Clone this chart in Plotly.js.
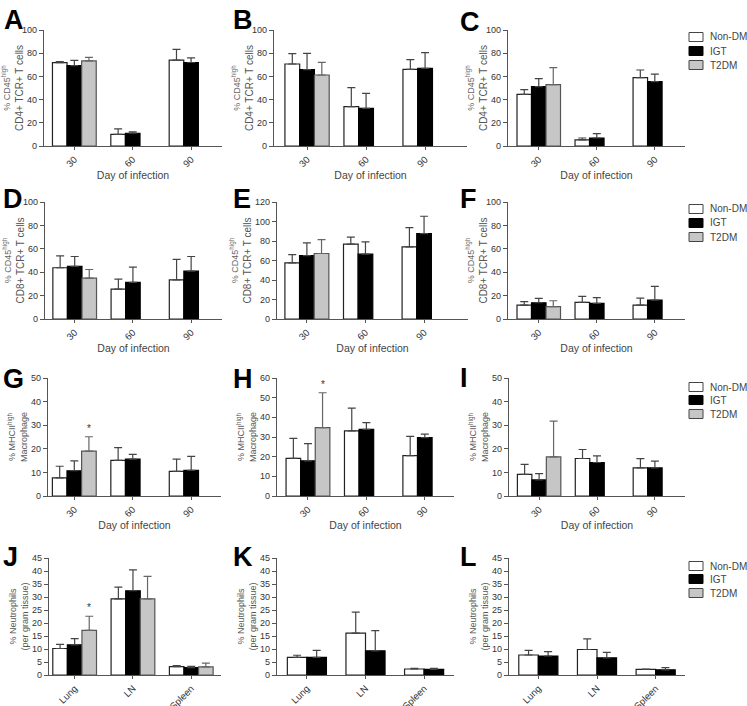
<!DOCTYPE html>
<html><head><meta charset="utf-8">
<script src="https://cdn.plot.ly/plotly-3.0.1.min.js"></script>
<style>html,body{margin:0;padding:0;background:#fff;}#chart{width:747px;height:706px;}</style>
</head><body><div id="chart"></div>
<script>
// ---------------- data ----------------
const seriesNames = ['Non-DM', 'IGT', 'T2DM'];
const days = ['30', '60', '90'];
const tissues = ['Lung', 'LN', 'Spleen'];

// A: CD4+ (row 1, col 1)
const A_nonDM = [71.8, 10.0, 74.0], A_nonDM_sem = [1.0, 4.7, 9.3];
const A_IGT   = [69.3, 11.0, 72.0], A_IGT_sem   = [4.6, 1.2, 4.0];
const A_T2DM  = [73.3, null, null], A_T2DM_sem  = [3.1, 0, 0];
// B
const B_nonDM = [70.7, 33.9, 66.1], B_nonDM_sem = [8.9, 16.4, 8.3];
const B_IGT   = [65.8, 32.5, 67.0], B_IGT_sem   = [14.1, 12.9, 13.5];
const B_T2DM  = [61.2, null, null], B_T2DM_sem  = [10.9, 0, 0];
// C
const C_nonDM = [44.5, 5.2, 58.9], C_nonDM_sem = [4.1, 1.7, 6.6];
const C_IGT   = [51.1, 6.9, 55.5], C_IGT_sem   = [6.9, 3.7, 6.5];
const C_T2DM  = [52.9, null, null], C_T2DM_sem = [14.6, 0, 0];
// D: CD8+
const D_nonDM = [43.8, 25.6, 33.5], D_nonDM_sem = [10.2, 8.5, 17.4];
const D_IGT   = [44.9, 31.3, 40.9], D_IGT_sem   = [8.5, 13.0, 12.5];
const D_T2DM  = [34.9, null, null], D_T2DM_sem  = [7.4, 0, 0];
// E
const E_nonDM = [57.6, 76.7, 74.0], E_nonDM_sem = [8.5, 7.3, 19.8];
const E_IGT   = [65.1, 66.5, 87.6], E_IGT_sem   = [12.9, 12.5, 17.8];
const E_T2DM  = [67.2, null, null], E_T2DM_sem  = [14.3, 0, 0];
// F
const F_nonDM = [11.9, 14.2, 11.9], F_nonDM_sem = [2.9, 5.1, 6.0];
const F_IGT   = [13.9, 13.4, 16.2], F_IGT_sem   = [3.7, 4.8, 11.6];
const F_T2DM  = [10.5, null, null], F_T2DM_sem  = [5.1, 0, 0];
// G: MHCII high macrophage
const G_nonDM = [7.7, 15.1, 10.4], G_nonDM_sem = [4.9, 5.4, 5.2];
const G_IGT   = [10.7, 15.6, 10.9], G_IGT_sem   = [4.2, 2.0, 5.9];
const G_T2DM  = [19.0, null, null], G_T2DM_sem  = [6.1, 0, 0];
// H
const H_nonDM = [19.1, 33.1, 20.5], H_nonDM_sem = [10.2, 11.6, 9.8];
const H_IGT   = [17.9, 33.9, 29.7], H_IGT_sem   = [8.7, 3.4, 1.8];
const H_T2DM  = [34.8, null, null], H_T2DM_sem  = [17.7, 0, 0];
// I
const I_nonDM = [9.2, 15.9, 11.9], I_nonDM_sem = [4.2, 3.8, 3.9];
const I_IGT   = [6.8, 14.2, 11.9], I_IGT_sem   = [2.7, 2.8, 2.9];
const I_T2DM  = [16.6, null, null], I_T2DM_sem = [15.1, 0, 0];
// J: Neutrophils per gram tissue
const J_nonDM = [10.2, 29.3, 3.2], J_nonDM_sem = [1.6, 4.5, 0.4];
const J_IGT   = [11.6, 32.4, 2.8], J_IGT_sem   = [2.4, 8.0, 0.5];
const J_T2DM  = [17.2, 29.3, 3.1], J_T2DM_sem  = [5.4, 8.6, 1.5];
// K
const K_nonDM = [6.8, 16.1, 2.3], K_nonDM_sem = [0.8, 8.1, 0.3];
const K_IGT   = [6.8, 9.3, 2.2],  K_IGT_sem   = [2.7, 7.8, 0.4];
// L
const L_nonDM = [7.7, 9.8, 2.2], L_nonDM_sem = [1.8, 4.1, 0.1];
const L_IGT   = [7.3, 6.6, 2.0], L_IGT_sem   = [1.7, 2.1, 0.8];

// significance marks: [panel letter, series index, category index]
const sigMarks = [['G', 2, 0], ['H', 2, 0], ['J', 2, 0]];

// axis titles
const yTitleRow1 = ['% CD45<sup>high</sup>', 'CD4+ TCR+ T cells'];
const yTitleRow2 = ['% CD45<sup>high</sup>', 'CD8+ TCR+ T cells'];
const yTitleRow3 = ['% MHCII<sup>high</sup>', 'Macrophage'];
const yTitleRow4 = ['% Neutrophils', '(per gram tissue)'];
const xTitle = 'Day of infection';

// ---------------- figure ----------------
const W = 747, H = 706;
const FONT = 'Liberation Sans, Arial, Helvetica, sans-serif';
const fills = ['#ffffff', '#000000', '#c6c6c6'];
const outlines = ['#222222', '#000000', '#555555'];
const errCols = ['#444444', '#444444', '#666666'];

const panels = [
  {id:'A', cats:days, s:[[A_nonDM,A_nonDM_sem],[A_IGT,A_IGT_sem],[A_T2DM,A_T2DM_sem]], ymax:100, dt:20, yt:yTitleRow1, xt:true, px:[44,222,30,146], xr:[-0.52,2.53]},
  {id:'B', cats:days, s:[[B_nonDM,B_nonDM_sem],[B_IGT,B_IGT_sem],[B_T2DM,B_T2DM_sem]], ymax:100, dt:20, yt:yTitleRow1, xt:true, px:[274,467,30,146], xr:[-0.56,2.71]},
  {id:'C', cats:days, s:[[C_nonDM,C_nonDM_sem],[C_IGT,C_IGT_sem],[C_T2DM,C_T2DM_sem]], ymax:100, dt:20, yt:yTitleRow1, xt:true, px:[508,685,30,146], xr:[-0.53,2.52], leg:[37,51,65]},
  {id:'D', cats:days, s:[[D_nonDM,D_nonDM_sem],[D_IGT,D_IGT_sem],[D_T2DM,D_T2DM_sem]], ymax:100, dt:20, yt:yTitleRow2, xt:true, px:[45,222,202,319], xr:[-0.51,2.53]},
  {id:'E', cats:days, s:[[E_nonDM,E_nonDM_sem],[E_IGT,E_IGT_sem],[E_T2DM,E_T2DM_sem]], ymax:120, dt:20, yt:yTitleRow2, xt:true, px:[277,468,202,319], xr:[-0.51,2.75]},
  {id:'F', cats:days, s:[[F_nonDM,F_nonDM_sem],[F_IGT,F_IGT_sem],[F_T2DM,F_T2DM_sem]], ymax:100, dt:20, yt:yTitleRow2, xt:true, px:[508,685,202,319], xr:[-0.53,2.52], leg:[209,223,237]},
  {id:'G', cats:days, s:[[G_nonDM,G_nonDM_sem],[G_IGT,G_IGT_sem],[G_T2DM,G_T2DM_sem]], ymax:50, dt:10, yt:yTitleRow3, xt:true, px:[48,221,378,496], xr:[-0.45,2.51]},
  {id:'H', cats:days, s:[[H_nonDM,H_nonDM_sem],[H_IGT,H_IGT_sem],[H_T2DM,H_T2DM_sem]], ymax:60, dt:10, yt:yTitleRow3, xt:true, px:[277,454,378,496], xr:[-0.53,2.5]},
  {id:'I', cats:days, s:[[I_nonDM,I_nonDM_sem],[I_IGT,I_IGT_sem],[I_T2DM,I_T2DM_sem]], ymax:50, dt:10, yt:yTitleRow3, xt:true, px:[509,685,378,496], xr:[-0.52,2.52], leg:[387,400,414]},
  {id:'J', cats:tissues, s:[[J_nonDM,J_nonDM_sem],[J_IGT,J_IGT_sem],[J_T2DM,J_T2DM_sem]], ymax:45, dt:5, yt:yTitleRow4, xt:false, px:[49,221,558,675], xr:[-0.44,2.51]},
  {id:'K', cats:tissues, s:[[K_nonDM,K_nonDM_sem],[K_IGT,K_IGT_sem]], ymax:45, dt:5, yt:yTitleRow4, xt:false, px:[277,454,558,675], xr:[-0.51,2.51]},
  {id:'L', cats:tissues, s:[[L_nonDM,L_nonDM_sem],[L_IGT,L_IGT_sem]], ymax:45, dt:5, yt:yTitleRow4, xt:false, px:[509,685,558,675], xr:[-0.5,2.5], leg:[566,579,593]}
];
const letterPos = {A:[2,3],B:[231,3],C:[458,5],D:[1,182],E:[231,182],F:[458,182],G:[1,362],H:[231,362],I:[458,361],J:[1,540],K:[231,540],L:[458,540]};

const traces = [];
const layout = {
  width: W, height: H, autosize: false,
  margin: {l:0, r:0, t:0, b:0},
  paper_bgcolor: '#fff', plot_bgcolor: 'rgba(0,0,0,0)',
  font: {family: FONT, size: 9, color: '#333'},
  barmode: 'overlay',
  showlegend: false,
  annotations: [], shapes: []
};

panels.forEach((p, i) => {
  const n = i + 1;
  const xa = n === 1 ? 'x' : 'x' + n, ya = n === 1 ? 'y' : 'y' + n;
  const xk = n === 1 ? 'xaxis' : 'xaxis' + n, yk = n === 1 ? 'yaxis' : 'yaxis' + n;
  const ns = p.s.length;
  const bw = ns === 3 ? 0.25 : 1/3;
  p.s.forEach((s, k) => {
    traces.push({
      type: 'bar', x: p.cats, y: s[0], xaxis: xa, yaxis: ya,
      name: seriesNames[k],
      width: bw, offset: -ns*bw/2 + k*bw,
      marker: {color: fills[k], line: {color: outlines[k], width: 1.2}},
      error_y: {type:'data', symmetric:false, array: s[1], arrayminus: s[1].map(() => 0),
                color: errCols[k], thickness: 1.2, width: 4},
      showlegend: false,
      hoverinfo: 'x+y+name'
    });
  });
  const [x0, x1, y0, y1] = p.px;
  layout[xk] = {
    domain: [x0 / W, x1 / W], anchor: ya, type: 'category',
    categoryorder: 'array', categoryarray: p.cats,
    range: p.xr, autorange: false, fixedrange: true,
    showline: true, linecolor: '#555', linewidth: 1.2,
    ticks: 'outside', ticklen: 3, tickcolor: '#555', tickwidth: 1,
    tickangle: -45, tickfont: {size: 9.5, color: '#333'},
    showgrid: false, zeroline: false,
    title: p.xt ? {text: xTitle, font: {size: 10.5, color: '#444'}, standoff: 0} : {text: ''}
  };
  const big = p.yt === yTitleRow1 || p.yt === yTitleRow2;
  const ytText = big
    ? '<span style="font-size:9px;color:#666">' + p.yt[0] + '</span><br>' + p.yt[1]
    : p.yt[0] + '<br>' + p.yt[1];
  layout[yk] = {
    domain: [1 - y1 / H, 1 - y0 / H], anchor: xa,
    range: [0, p.ymax], autorange: false, dtick: p.dt, tick0: 0, fixedrange: true,
    showline: true, linecolor: '#555', linewidth: 1.2,
    ticks: 'outside', ticklen: 4, tickcolor: '#555', tickwidth: 1,
    tickfont: {size: 9, color: '#333'},
    showgrid: false, zeroline: false,
    title: {text: ytText, font: {size: big ? 10 : 9, color: '#555'}}
  };
  // legend (drawn as swatches + labels beside the third column)
  if (p.leg) {
    p.leg.forEach((cy, k) => {
      layout.shapes.push({
        type: 'rect', xref: 'paper', yref: 'paper',
        x0: 689 / W, x1: 703 / W, y0: 1 - (cy + 4.5) / H, y1: 1 - (cy - 4.5) / H,
        fillcolor: fills[k], line: {color: k === 1 ? '#000' : '#444', width: 1}
      });
      layout.annotations.push({
        xref: 'paper', yref: 'paper', x: 708 / W, y: 1 - cy / H,
        xanchor: 'left', yanchor: 'middle', showarrow: false,
        text: seriesNames[k], font: {size: 10, color: '#444', family: FONT}
      });
    });
  }
  const lp = letterPos[p.id];
  layout.annotations.push({
    xref: 'paper', yref: 'paper', x: lp[0] / W, y: 1 - lp[1] / H,
    xanchor: 'left', yanchor: 'top', showarrow: false,
    text: '<b>' + p.id + '</b>', font: {size: 27, color: '#000', family: FONT}
  });
});

sigMarks.forEach(([id, k, c]) => {
  const i = panels.findIndex(p => p.id === id);
  const p = panels[i], n = i + 1;
  const ns = p.s.length, bw = ns === 3 ? 0.25 : 1/3;
  layout.annotations.push({
    xref: n === 1 ? 'x' : 'x' + n, yref: n === 1 ? 'y' : 'y' + n,
    x: c - ns*bw/2 + k*bw + bw/2, y: p.s[k][0][c] + p.s[k][1][c],
    yanchor: 'bottom', yshift: 1, showarrow: false,
    text: '*', font: {size: 10, color: '#333', family: FONT}
  });
});

Plotly.newPlot('chart', traces, layout, {staticPlot: true, displayModeBar: false});
</script>
</body></html>
